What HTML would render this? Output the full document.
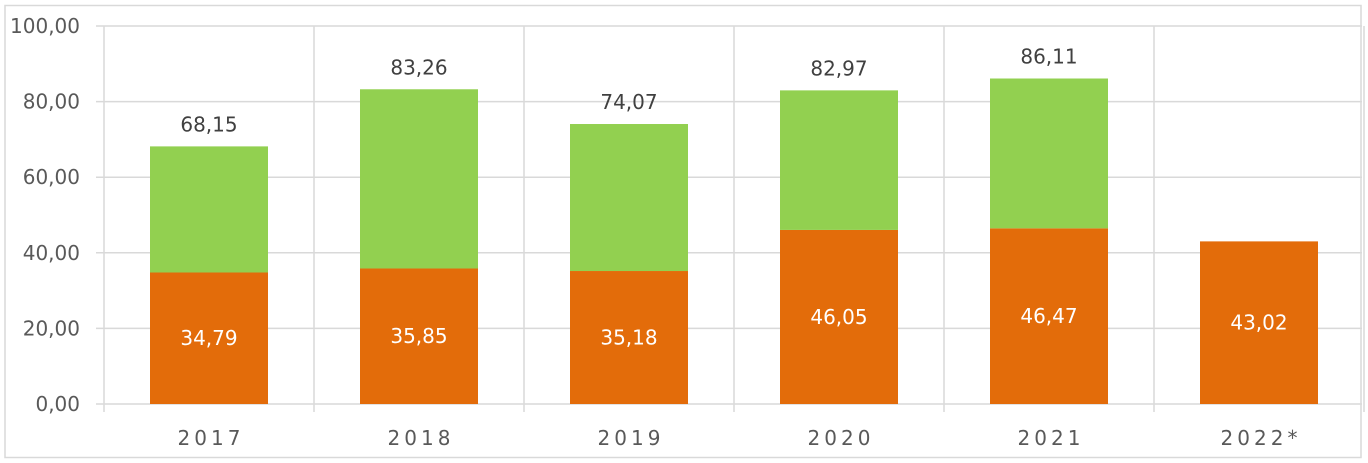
<!DOCTYPE html>
<html><head><meta charset="utf-8"><style>
html,body{margin:0;padding:0;background:#fff;}
svg{display:block;font-family:"DejaVu Sans","Liberation Sans",sans-serif;}
</style></head><body>
<svg id="chart" width="1368" height="463">
<rect x="5" y="5.5" width="1356" height="452" fill="#fff" stroke="#d9d9d9" stroke-width="1.5"/>
<g id="grid"></g><g id="bars"></g><g id="labels"></g>
</svg>
<script>
const categories=["2017","2018","2019","2020","2021","2022*"];
const orangeValues=[34.79,35.85,35.18,46.05,46.47,43.02];
const totalValues=[68.15,83.26,74.07,82.97,86.11,null];
const yTicks=[0,20,40,60,80,100];
const NS="http://www.w3.org/2000/svg";
const x0=104,band=210,y0=404,yTop=26,barW=118;
function y(v){return y0-(v/100)*(y0-yTop);}
function xc(i){return x0+band*i+band/2;}
function mk(tag,attrs,parent,text){const e=document.createElementNS(NS,tag);for(const k in attrs)e.setAttribute(k,attrs[k]);if(text!=null)e.textContent=text;document.getElementById(parent).appendChild(e);return e;}
function fmt(v){return v.toFixed(2).replace('.',',');}
yTicks.forEach(t=>{
 const l=mk('line',{x1:96,x2:1362,y1:y(t),y2:y(t),stroke:'#d9d9d9','stroke-width':1.5},'grid');
 
 
 const tx=mk('text',{x:80,y:y(t)+7,'text-anchor':'end','font-size':20,fill:'#595959'},'labels',fmt(t));
 
 
});
for(let i=0;i<=categories.length;i++){
 const l=mk('line',{x1:x0+band*i,x2:x0+band*i,y1:yTop,y2:412,stroke:'#d9d9d9','stroke-width':1.5},'grid');
 
 
}
categories.forEach((c,i)=>{
 const cx=xc(i);
 const o=orangeValues[i];
 const r=mk('rect',{x:cx-barW/2,y:y(o),width:barW,height:y0-y(o),fill:'#e36c0a'},'bars');
 
 
 const ol=mk('text',{x:cx,y:(y(o)+y0)/2+7,'text-anchor':'middle','font-size':20,fill:'#fff'},'labels',fmt(o));
 
 
 const t=totalValues[i];
 if(t!=null){
  const g=mk('rect',{x:cx-barW/2,y:y(t),width:barW,height:y(o)-y(t),fill:'#92d050'},'bars');
  
  
  const tl=mk('text',{x:cx,y:y(t)-15,'text-anchor':'middle','font-size':20,fill:'#404040'},'labels',fmt(t));
  
  
 }
 const xl=mk('text',{x:cx+2,y:445,'text-anchor':'middle','font-size':20,fill:'#595959','letter-spacing':'4'},'labels',c);
 
 
});
</script>
</body></html>
